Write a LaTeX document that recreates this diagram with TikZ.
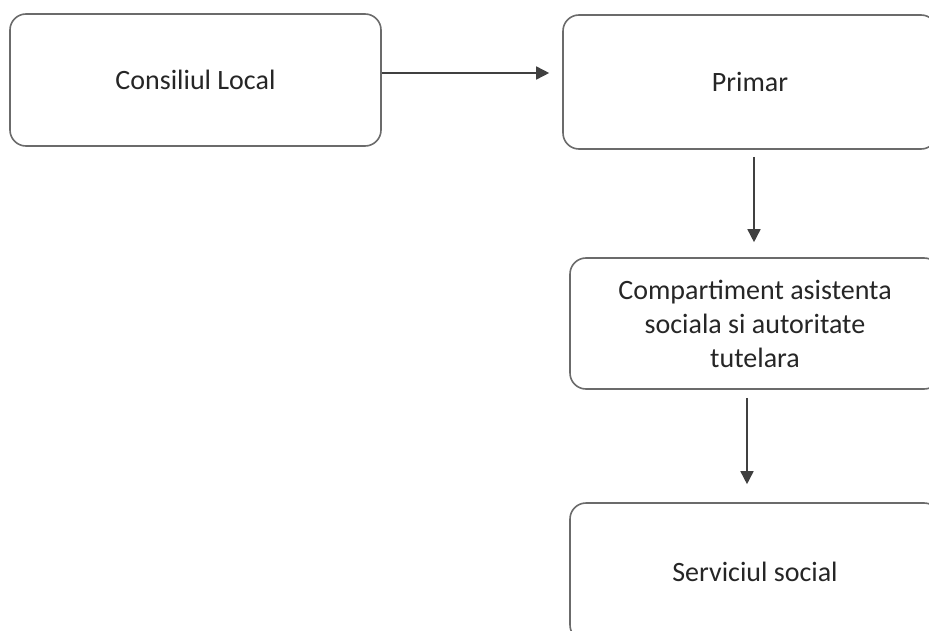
\documentclass[tikz,border=0pt]{standalone}
\usepackage{fontspec}
\setmainfont{Carlito}
\usetikzlibrary{arrows.meta}

\begin{document}
\begin{tikzpicture}[x=1pt,y=-1pt,>={Triangle[length=13pt,width=13pt]},
  box/.style={draw=black!58,line width=1.6pt,rounded corners=16pt,fill=white,
    font=\fontsize{28}{34}\selectfont,text=black!85,align=center,inner sep=0pt},
  arr/.style={->,draw=black!75,line width=1.6pt}]
  \clip (0,0) rectangle (929,631);
  \node[box,minimum width=371pt,minimum height=132pt] (cl) at (195.5,80) {Consiliul Local};
  \node[box,minimum width=374pt,minimum height=134pt] (pr) at (750,82) {Primar};
  \node[box,minimum width=370pt,minimum height=131pt] (cm) at (755,323.5)
    {Compartiment asistenta\\sociala si autoritate\\tutelara};
  \node[box,minimum width=370pt,minimum height=138pt] (sv) at (755,572) {Serviciul social};
  \draw[arr,shorten >=13pt] ([yshift=7pt]cl.east) -- ([yshift=9pt]pr.west);
  \draw[arr,shorten <=7pt,shorten >=15pt] ([xshift=4pt]pr.south) -- ([xshift=-1pt]cm.north);
  \draw[arr,shorten <=8pt,shorten >=18pt] ([xshift=-8pt]cm.south) -- ([xshift=-8pt]sv.north);
\end{tikzpicture}
\end{document}
